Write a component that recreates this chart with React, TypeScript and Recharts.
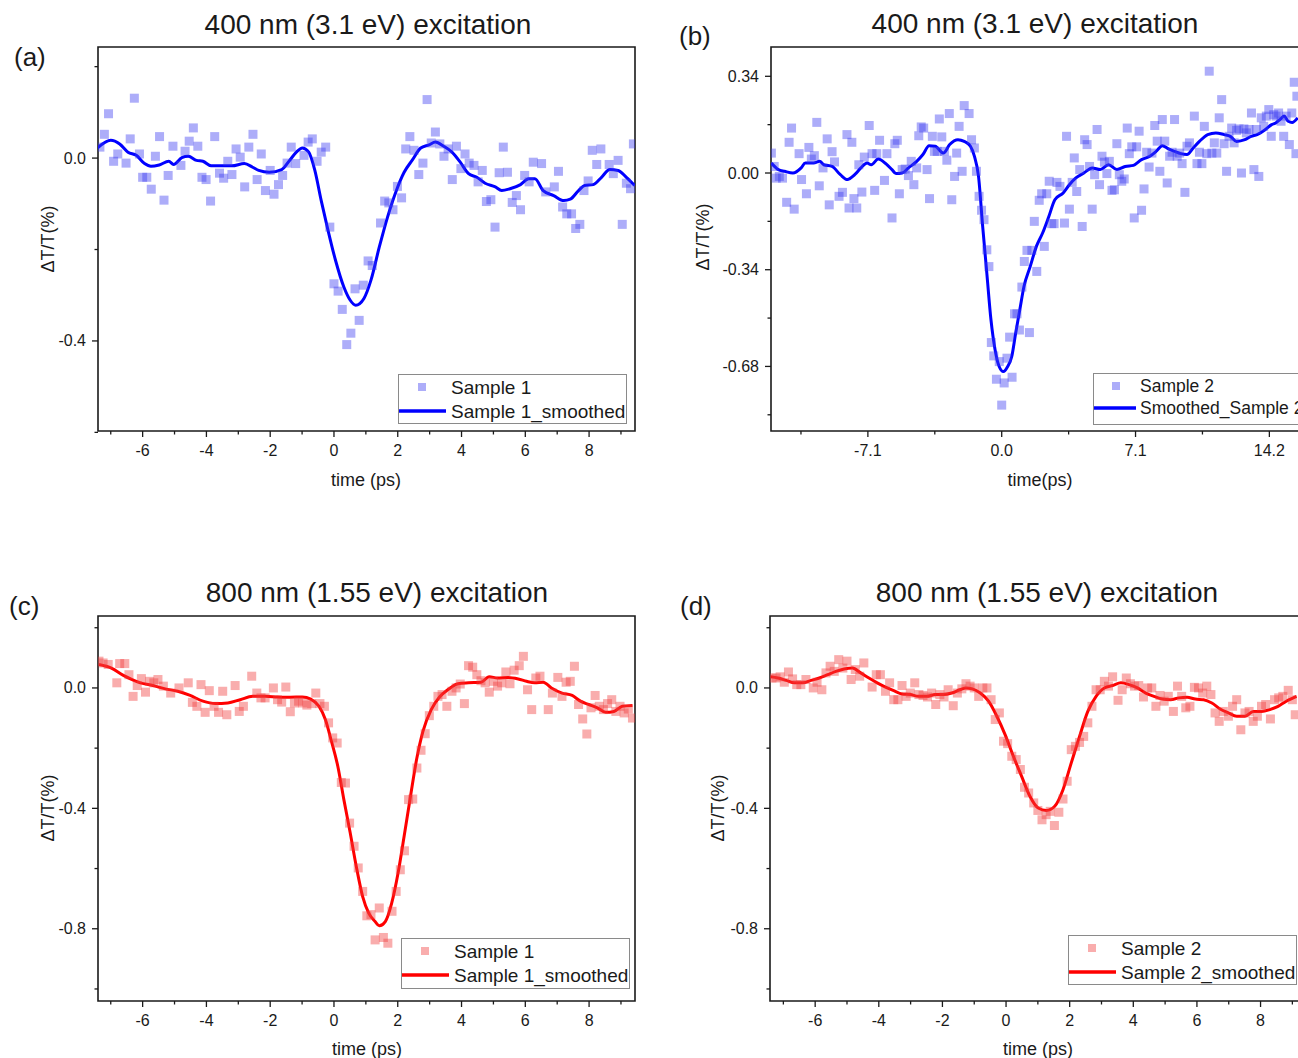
import React from "react";
import { ComposedChart, Scatter, Line, XAxis, YAxis, ReferenceArea, Legend } from "recharts";

type Pair = [number, number];

const FONT = '"Liberation Sans", Arial, Helvetica, sans-serif';
const INK = "#1a1a1a";

// (a) 400 nm, sample 1
const A_POINTS: Pair[] = [
  [-7.34, 0.024], [-7.2, 0.052], [-7.07, 0.097], [-6.91, -0.007], [-6.78, 0.009], [-6.52, -0.011],
  [-6.39, 0.042], [-6.26, 0.131], [-6.1, 0.009], [-6.0, -0.042], [-5.87, -0.042], [-5.73, -0.068],
  [-5.6, 0.004], [-5.47, 0.047], [-5.33, -0.092], [-5.2, -0.038], [-5.05, 0.026], [-4.8, -0.016],
  [-4.67, 0.015], [-4.54, 0.037], [-4.41, 0.066], [-4.27, 0.026], [-4.14, -0.042], [-4.01, -0.047],
  [-3.87, -0.094], [-3.74, 0.047], [-3.59, -0.033], [-3.46, -0.044], [-3.33, -0.007], [-3.2, -0.036],
  [-3.07, 0.02], [-2.94, 0.002], [-2.8, -0.063], [-2.67, 0.024], [-2.54, 0.052], [-2.41, -0.047],
  [-2.28, 0.009], [-2.15, -0.071], [-2.0, -0.027], [-1.88, -0.079], [-1.74, -0.058], [-1.61, -0.038],
  [-1.47, -0.011], [-1.34, 0.024], [-1.2, -0.012], [-0.94, 0.006], [-0.81, 0.035], [-0.68, 0.042],
  [-0.53, -0.007], [-0.4, 0.013], [-0.26, 0.024], [-0.13, -0.151], [0.0, -0.275], [0.13, -0.291],
  [0.26, -0.331], [0.4, -0.408], [0.53, -0.383], [0.66, -0.286], [0.79, -0.355], [0.92, -0.278],
  [1.07, -0.225], [1.2, -0.235], [1.46, -0.142], [1.59, -0.094], [1.72, -0.098], [1.85, -0.113],
  [1.99, -0.062], [2.12, -0.087], [2.25, 0.02], [2.38, 0.047], [2.51, 0.017], [2.66, -0.036],
  [2.79, -0.011], [2.92, 0.128], [3.05, 0.033], [3.18, 0.057], [3.32, 0.031], [3.45, 0.004],
  [3.58, 0.02], [3.71, -0.047], [3.84, 0.026], [3.98, -0.023], [4.11, 0.009], [4.24, -0.011],
  [4.39, -0.016], [4.52, -0.052], [4.65, -0.027], [4.78, -0.095], [4.92, -0.091], [5.05, -0.151],
  [5.18, -0.032], [5.31, 0.024], [5.44, -0.031], [5.59, -0.097], [5.72, -0.082], [5.85, -0.113],
  [5.98, -0.038], [6.12, -0.052], [6.25, -0.009], [6.51, -0.012], [6.64, -0.074], [6.91, -0.063],
  [7.04, -0.029], [7.17, -0.107], [7.3, -0.122], [7.45, -0.122], [7.58, -0.154], [7.71, -0.145],
  [7.84, -0.071], [7.97, -0.05], [8.1, 0.017], [8.24, -0.014], [8.37, 0.02], [8.63, -0.014],
  [8.76, -0.034], [8.91, -0.005], [9.04, -0.145], [9.17, -0.055], [9.3, -0.067], [9.39, 0.031],
];
const A_SMOOTH: Pair[] = [
  [-7.45, 0.02], [-7.0, 0.039], [-6.72, 0.031], [-6.46, 0.013], [-6.2, 0.006], [-5.94, -0.012],
  [-5.74, -0.018], [-5.48, -0.015], [-5.18, -0.007], [-5.03, -0.014], [-4.77, 0.001], [-4.57, 0.004],
  [-4.31, -0.005], [-4.11, -0.007], [-3.85, -0.017], [-3.59, -0.017], [-3.2, -0.017], [-2.81, -0.012],
  [-2.55, -0.02], [-2.36, -0.027], [-2.03, -0.031], [-1.64, -0.025], [-1.38, -0.004], [-1.18, 0.013],
  [-0.99, 0.022], [-0.79, 0.013], [-0.6, -0.027], [-0.4, -0.093], [-0.21, -0.151], [0.05, -0.224],
  [0.31, -0.282], [0.51, -0.311], [0.68, -0.322], [0.94, -0.307], [1.16, -0.267], [1.42, -0.195],
  [1.68, -0.129], [1.94, -0.074], [2.2, -0.031], [2.46, -0.004], [2.72, 0.022], [2.98, 0.029],
  [3.18, 0.035], [3.44, 0.026], [3.7, 0.013], [3.96, -0.009], [4.22, -0.034], [4.48, -0.042],
  [4.74, -0.055], [5.06, -0.063], [5.26, -0.071], [5.52, -0.067], [5.85, -0.058], [6.11, -0.045],
  [6.3, -0.045], [6.56, -0.071], [6.89, -0.082], [7.21, -0.093], [7.41, -0.09], [7.67, -0.071],
  [7.86, -0.06], [8.13, -0.058], [8.39, -0.042], [8.65, -0.025], [8.91, -0.027], [9.17, -0.042],
  [9.43, -0.06],
];

// (b) 400 nm, sample 2
const B_POINTS: Pair[] = [
  [-12.22, 0.07], [-12.07, 0.023], [-11.96, -0.018], [-11.8, -0.012], [-11.63, -0.018], [-11.41, -0.103],
  [-11.28, 0.108], [-11.15, 0.158], [-11.01, -0.127], [-10.75, 0.068], [-10.62, -0.023], [-10.36, -0.073],
  [-10.23, 0.09], [-10.1, 0.049], [-9.94, 0.061], [-9.81, 0.178], [-9.68, -0.045], [-9.48, 0.018],
  [-9.26, 0.12], [-9.15, -0.112], [-9.0, 0.075], [-8.87, 0.039], [-8.63, -0.082], [-8.45, -0.068],
  [-8.21, 0.135], [-8.1, -0.123], [-7.95, 0.108], [-7.84, -0.09], [-7.69, -0.123], [-7.58, 0.029],
  [-7.42, -0.067], [-7.29, 0.056], [-7.03, 0.167], [-6.88, 0.068], [-6.74, -0.061], [-6.63, 0.068],
  [-6.48, 0.115], [-6.22, -0.026], [-6.09, 0.068], [-5.82, -0.158], [-5.67, 0.103], [-5.54, 0.115],
  [-5.43, -0.073], [-5.28, 0.012], [-5.12, 0.014], [-4.95, -0.009], [-4.8, 0.041], [-4.66, -0.041],
  [-4.51, 0.018], [-4.4, 0.131], [-4.27, 0.162], [-4.14, 0.158], [-3.96, 0.012], [-3.83, -0.09],
  [-3.68, 0.129], [-3.57, 0.076], [-3.42, 0.076], [-3.31, 0.19], [-3.18, 0.127], [-3.04, 0.076],
  [-2.91, 0.045], [-2.78, 0.209], [-2.65, -0.094], [-2.5, -0.012], [-2.39, 0.07], [-2.26, 0.164],
  [-2.1, 0.006], [-1.99, 0.237], [-1.73, 0.209], [-1.6, 0.117], [-1.45, 0.088], [-1.34, 0.006],
  [-1.2, -0.082], [-1.07, -0.131], [-0.94, -0.164], [-0.79, -0.27], [-0.68, -0.329], [-0.55, -0.596],
  [-0.42, -0.643], [-0.28, -0.725], [-0.13, -0.663], [0.0, -0.816], [0.13, -0.738], [0.28, -0.651],
  [0.42, -0.577], [0.55, -0.718], [0.68, -0.495], [0.81, -0.495], [0.94, -0.552], [1.07, -0.401],
  [1.2, -0.311], [1.34, -0.272], [1.47, -0.561], [1.6, -0.272], [1.73, -0.17], [1.86, -0.346],
  [1.99, -0.096], [2.12, -0.073], [2.26, -0.258], [2.39, -0.073], [2.52, -0.029], [2.65, -0.178],
  [2.78, -0.178], [2.93, -0.033], [3.09, -0.047], [3.33, -0.176], [3.44, 0.129], [3.59, -0.127],
  [3.74, -0.033], [3.85, 0.053], [3.98, -0.065], [4.14, 0.012], [4.27, -0.188], [4.4, 0.117],
  [4.53, 0.1], [4.66, 0.023], [4.8, -0.127], [4.93, -0.006], [5.06, 0.153], [5.19, -0.041],
  [5.32, 0.059], [5.45, 0.038], [5.58, -0.002], [5.71, 0.041], [5.85, -0.061], [5.98, -0.059],
  [6.11, 0.103], [6.24, -0.006], [6.37, -0.029], [6.5, -0.021], [6.66, 0.158], [6.77, 0.068],
  [6.9, 0.092], [7.03, -0.158], [7.16, 0.092], [7.29, 0.147], [7.42, -0.131], [7.55, -0.056],
  [7.69, 0.073], [7.82, 0.021], [7.97, 0.07], [8.12, 0.167], [8.25, 0.112], [8.39, 0.006],
  [8.52, 0.188], [8.65, 0.112], [8.78, -0.035], [8.91, 0.059], [9.04, 0.073], [9.17, 0.188],
  [9.31, 0.059], [9.44, 0.07], [9.57, 0.033], [9.72, -0.068], [9.83, 0.094], [9.96, 0.106],
  [10.22, 0.2], [10.36, 0.033], [10.49, 0.073], [10.62, 0.033], [10.75, 0.164], [10.88, 0.068],
  [11.01, 0.358], [11.15, 0.07], [11.28, 0.106], [11.41, 0.07], [11.54, 0.194], [11.67, 0.258],
  [11.8, 0.103], [11.93, 0.006], [12.06, 0.129], [12.2, 0.158], [12.33, 0.106], [12.46, 0.15],
  [12.59, 0.155], [12.72, 0.0], [12.85, 0.155], [12.98, 0.141], [13.12, 0.153], [13.25, 0.211],
  [13.38, 0.012], [13.51, 0.153], [13.64, -0.012], [13.77, 0.194], [13.9, 0.164], [14.04, 0.2],
  [14.17, 0.223], [14.3, 0.129], [14.43, 0.205], [14.56, 0.2], [14.69, 0.211], [14.82, 0.182],
  [14.96, 0.129], [15.09, 0.2], [15.26, 0.1], [15.39, 0.211], [15.52, 0.319], [15.61, 0.068],
  [15.66, 0.27],
];
const B_SMOOTH: Pair[] = [
  [-12.22, 0.035], [-11.85, 0.012], [-11.52, 0.006], [-11.08, 0.0], [-10.64, 0.018], [-10.42, 0.035],
  [-9.98, 0.035], [-9.66, 0.041], [-9.44, 0.029], [-9.0, 0.023], [-8.56, -0.006], [-8.19, -0.023],
  [-7.8, -0.006], [-7.47, 0.018], [-7.14, 0.035], [-6.92, 0.029], [-6.55, 0.049], [-6.15, 0.033],
  [-5.82, 0.012], [-5.61, -0.002], [-5.28, 0.0], [-4.95, 0.018], [-4.51, 0.041], [-4.18, 0.065],
  [-3.85, 0.096], [-3.53, 0.094], [-3.09, 0.07], [-2.76, 0.1], [-2.32, 0.117], [-1.99, 0.111],
  [-1.66, 0.094], [-1.45, 0.059], [-1.23, -0.012], [-1.01, -0.188], [-0.79, -0.352], [-0.57, -0.516],
  [-0.35, -0.622], [-0.13, -0.681], [0.09, -0.698], [0.31, -0.681], [0.53, -0.646], [0.74, -0.563],
  [0.96, -0.481], [1.18, -0.399], [1.51, -0.329], [1.84, -0.258], [2.17, -0.211], [2.5, -0.153],
  [2.82, -0.094], [3.26, -0.07], [3.59, -0.041], [3.92, -0.018], [4.36, 0.0], [4.8, 0.018],
  [5.23, 0.012], [5.67, 0.029], [6.11, 0.012], [6.55, 0.023], [6.99, 0.027], [7.42, 0.047],
  [7.86, 0.059], [8.19, 0.076], [8.52, 0.096], [8.85, 0.085], [9.17, 0.076], [9.5, 0.068],
  [9.83, 0.065], [10.16, 0.088], [10.49, 0.111], [10.93, 0.135], [11.36, 0.141], [11.8, 0.135],
  [12.13, 0.129], [12.46, 0.111], [12.9, 0.117], [13.23, 0.129], [13.55, 0.135], [13.99, 0.153],
  [14.32, 0.17], [14.54, 0.176], [14.76, 0.188], [14.98, 0.2], [15.2, 0.182], [15.41, 0.178],
  [15.7, 0.194],
];

// (c) 800 nm, sample 1
const C_POINTS: Pair[] = [
  [-7.37, 0.089], [-7.24, 0.083], [-7.08, 0.078], [-6.81, 0.017], [-6.72, 0.081], [-6.56, 0.081],
  [-6.43, 0.044], [-6.3, -0.028], [-6.17, 0.008], [-6.04, 0.031], [-5.91, -0.014], [-5.78, 0.022],
  [-5.65, 0.017], [-5.52, 0.028], [-5.35, 0.006], [-5.12, -0.017], [-4.86, 0.0], [-4.57, 0.017],
  [-4.44, -0.048], [-4.3, -0.061], [-4.17, 0.011], [-4.04, -0.081], [-3.91, -0.009], [-3.76, -0.061],
  [-3.62, -0.081], [-3.49, -0.011], [-3.36, -0.089], [-3.1, 0.008], [-2.97, -0.078], [-2.84, -0.061],
  [-2.58, 0.039], [-2.42, -0.017], [-2.29, -0.033], [-2.16, -0.033], [-1.9, 0.0], [-1.77, -0.039],
  [-1.64, -0.047], [-1.51, 0.003], [-1.37, -0.079], [-1.24, -0.05], [-1.11, -0.044], [-0.98, -0.05],
  [-0.85, -0.057], [-0.7, -0.052], [-0.57, -0.017], [-0.44, -0.052], [-0.3, -0.061], [-0.17, -0.116],
  [-0.04, -0.166], [0.1, -0.183], [0.23, -0.314], [0.36, -0.316], [0.49, -0.449], [0.63, -0.526],
  [0.76, -0.598], [0.9, -0.676], [1.03, -0.757], [1.16, -0.753], [1.29, -0.837], [1.42, -0.731],
  [1.55, -0.829], [1.69, -0.848], [1.82, -0.742], [1.95, -0.676], [2.08, -0.604], [2.21, -0.541],
  [2.34, -0.371], [2.47, -0.369], [2.6, -0.266], [2.73, -0.207], [2.86, -0.152], [2.99, -0.092],
  [3.13, -0.061], [3.26, -0.028], [3.39, -0.022], [3.54, -0.061], [3.7, -0.011], [3.83, 0.0],
  [3.96, 0.013], [4.09, -0.052], [4.22, 0.074], [4.35, 0.069], [4.48, 0.044], [4.61, 0.024],
  [4.74, 0.017], [4.87, -0.014], [5.0, 0.022], [5.13, 0.006], [5.26, 0.017], [5.39, 0.053],
  [5.52, 0.014], [5.65, 0.059], [5.81, 0.074], [5.94, 0.105], [6.07, -0.006], [6.2, -0.072],
  [6.33, 0.033], [6.46, 0.039], [6.72, -0.072], [6.85, -0.017], [7.02, 0.035], [7.15, -0.028],
  [7.28, 0.019], [7.41, 0.022], [7.54, 0.072], [7.67, -0.055], [7.8, -0.103], [7.93, -0.153],
  [8.06, -0.066], [8.19, -0.025], [8.32, -0.061], [8.45, -0.072], [8.58, -0.052], [8.71, -0.039],
  [8.84, -0.078], [8.97, -0.061], [9.1, -0.083], [9.23, -0.07], [9.36, -0.1],
];
const C_SMOOTH: Pair[] = [
  [-7.37, 0.078], [-6.98, 0.066], [-6.59, 0.041], [-6.33, 0.028], [-6.07, 0.017], [-5.68, 0.008],
  [-5.29, -0.003], [-4.9, -0.011], [-4.51, -0.025], [-4.11, -0.044], [-3.72, -0.052], [-3.33, -0.05],
  [-2.94, -0.039], [-2.55, -0.028], [-2.16, -0.028], [-1.77, -0.03], [-1.38, -0.031], [-0.99, -0.03],
  [-0.73, -0.037], [-0.47, -0.061], [-0.27, -0.105], [-0.08, -0.177], [0.12, -0.26], [0.31, -0.371],
  [0.51, -0.482], [0.7, -0.593], [0.9, -0.693], [1.09, -0.748], [1.29, -0.776], [1.42, -0.79],
  [1.61, -0.776], [1.81, -0.715], [2.01, -0.615], [2.2, -0.493], [2.4, -0.36], [2.59, -0.238],
  [2.79, -0.144], [3.05, -0.072], [3.31, -0.03], [3.57, -0.006], [3.89, 0.014], [4.22, 0.017],
  [4.61, 0.019], [4.87, 0.037], [5.13, 0.033], [5.46, 0.035], [5.78, 0.03], [6.04, 0.022],
  [6.3, 0.017], [6.56, 0.019], [6.82, 0.0], [7.15, -0.017], [7.47, -0.025], [7.73, -0.044],
  [7.99, -0.055], [8.26, -0.066], [8.52, -0.081], [8.78, -0.078], [9.04, -0.061], [9.36, -0.058],
];

// (d) 800 nm, sample 2
const D_POINTS: Pair[] = [
  [-7.36, 0.033], [-7.23, 0.033], [-7.1, 0.037], [-6.97, 0.019], [-6.84, 0.053], [-6.71, 0.03],
  [-6.58, 0.011], [-6.45, 0.011], [-6.29, 0.028], [-6.06, 0.0], [-5.94, 0.019], [-5.79, -0.006],
  [-5.66, 0.05], [-5.53, 0.072], [-5.4, 0.055], [-5.26, 0.094], [-5.13, 0.066], [-5.0, 0.089],
  [-4.87, 0.028], [-4.74, 0.061], [-4.6, 0.039], [-4.47, 0.083], [-4.21, 0.003], [-4.08, 0.044],
  [-3.95, 0.044], [-3.79, -0.011], [-3.66, 0.017], [-3.53, -0.039], [-3.4, -0.039], [-3.27, 0.008],
  [-3.14, -0.028], [-3.01, -0.017], [-2.87, 0.017], [-2.74, -0.022], [-2.61, -0.025], [-2.47, -0.03],
  [-2.34, -0.017], [-2.21, -0.055], [-2.08, -0.022], [-1.95, -0.03], [-1.82, -0.006], [-1.66, -0.059],
  [-1.53, -0.017], [-1.39, -0.003], [-1.26, 0.014], [-1.13, 0.006], [-1.0, 0.0], [-0.86, -0.028],
  [-0.73, 0.0], [-0.6, 0.0], [-0.47, -0.039], [-0.34, -0.105], [-0.21, -0.083], [-0.08, -0.177],
  [0.05, -0.185], [0.18, -0.227], [0.32, -0.238], [0.45, -0.271], [0.58, -0.33], [0.71, -0.349],
  [0.87, -0.382], [1.0, -0.407], [1.13, -0.438], [1.26, -0.421], [1.39, -0.41], [1.52, -0.457],
  [1.66, -0.413], [1.79, -0.369], [1.92, -0.31], [2.05, -0.205], [2.18, -0.194], [2.31, -0.181],
  [2.44, -0.161], [2.57, -0.116], [2.7, -0.061], [2.83, -0.006], [2.96, -0.006], [3.09, 0.022],
  [3.22, 0.006], [3.35, 0.037], [3.52, -0.041], [3.65, -0.006], [3.78, 0.033], [3.91, 0.014],
  [4.04, 0.006], [4.17, 0.008], [4.32, -0.03], [4.45, 0.0], [4.58, 0.0], [4.71, -0.061],
  [4.84, -0.025], [4.97, -0.044], [5.1, -0.028], [5.26, -0.078], [5.39, 0.006], [5.52, -0.028],
  [5.65, -0.066], [5.78, -0.061], [5.92, 0.002], [6.05, 0.0], [6.18, -0.017], [6.31, 0.006],
  [6.44, -0.022], [6.57, -0.083], [6.7, -0.111], [6.83, -0.078], [6.99, -0.094], [7.12, -0.061],
  [7.25, -0.039], [7.38, -0.139], [7.51, -0.083], [7.64, -0.078], [7.77, -0.111], [7.9, -0.094],
  [8.03, -0.061], [8.16, -0.055], [8.31, -0.103], [8.44, -0.039], [8.57, -0.033], [8.7, -0.028],
  [8.87, -0.008], [9.0, -0.039], [9.09, -0.089],
];
const D_SMOOTH: Pair[] = [
  [-7.4, 0.037], [-7.17, 0.033], [-6.91, 0.025], [-6.65, 0.017], [-6.39, 0.017], [-6.13, 0.025],
  [-5.87, 0.033], [-5.61, 0.044], [-5.35, 0.055], [-5.09, 0.063], [-4.83, 0.066], [-4.57, 0.05],
  [-4.31, 0.033], [-4.05, 0.017], [-3.79, 0.003], [-3.53, -0.009], [-3.27, -0.02], [-3.01, -0.022],
  [-2.75, -0.028], [-2.49, -0.028], [-2.23, -0.022], [-1.97, -0.022], [-1.71, -0.017], [-1.45, -0.006],
  [-1.26, 0.0], [-1.06, -0.003], [-0.81, -0.017], [-0.55, -0.044], [-0.29, -0.094], [-0.03, -0.155],
  [0.23, -0.227], [0.49, -0.294], [0.75, -0.36], [1.01, -0.399], [1.27, -0.407], [1.53, -0.393],
  [1.79, -0.338], [2.05, -0.249], [2.31, -0.161], [2.57, -0.078], [2.83, -0.028], [3.09, 0.0],
  [3.35, 0.008], [3.61, 0.017], [3.87, 0.011], [4.13, 0.0], [4.39, -0.017], [4.65, -0.028],
  [4.91, -0.037], [5.17, -0.039], [5.43, -0.033], [5.69, -0.031], [5.95, -0.037], [6.21, -0.039],
  [6.47, -0.05], [6.73, -0.07], [6.99, -0.083], [7.25, -0.094], [7.51, -0.094], [7.77, -0.078],
  [8.03, -0.078], [8.29, -0.072], [8.55, -0.061], [8.81, -0.044], [9.13, -0.028],
];

// ticks: all tick marks, and the ones that carry a label
const PS_TICKS = [-7, -6, -5, -4, -3, -2, -1, 0, 1, 2, 3, 4, 5, 6, 7, 8, 9];
const PS_LABELS = [-6, -4, -2, 0, 2, 4, 6, 8];
const B_X_TICKS = [-10.65, -7.1, -3.55, 0, 3.55, 7.1, 10.65, 14.2];
const B_X_LABELS = [-7.1, 0, 7.1, 14.2];
const A_Y_TICKS = [0.2, 0, -0.2, -0.4, -0.6];
const A_Y_LABELS = [0, -0.4];
const B_Y_TICKS = [0.34, 0.17, 0, -0.17, -0.34, -0.51, -0.68, -0.85];
const B_Y_LABELS = [0.34, 0, -0.34, -0.68];
const CD_Y_TICKS = [0.2, 0, -0.2, -0.4, -0.6, -0.8, -1.0];
const CD_Y_LABELS = [0, -0.4, -0.8];

const BLUE = { line: "#0000ff", dot: "#3c3cf0" };
const RED = { line: "#ff0000", dot: "#f03c3c" };

type Box = { left: number; top: number; width: number; height: number };
type LegendLook = { font: number; dotX: number; dotY: number; lineEnd: number; lineY: number; textX: number; row1: number; row2: number };

const LEGEND_WIDE: LegendLook = { font: 19, dotX: 24, dotY: 13, lineEnd: 48, lineY: 37, textX: 53, row1: 20, row2: 44 };
const LEGEND_SMALL: LegendLook = { font: 17.5, dotX: 23, dotY: 13, lineEnd: 43, lineY: 35, textX: 47, row1: 19, row2: 41 };

type PanelProps = {
  plot: Box;
  xDomain: [number, number];
  yDomain: [number, number];
  xTicks: number[];
  xLabels: number[];
  xDigits: number;
  yTicks: number[];
  yLabels: number[];
  yDigits: number;
  points: Pair[];
  smooth: Pair[];
  colors: { line: string; dot: string };
  names: [string, string];
  legend: Box;
  legendLook: LegendLook;
  title: string;
  titlePos: [number, number];
  letter: string;
  letterPos: [number, number];
  yTitlePos: [number, number];
  xTitle: string;
  xTitlePos: [number, number];
};

const isLabel = (labels: number[], v: number) => labels.some((l) => Math.abs(l - v) < 1e-6);

function LegendBox({ box, look, colors, names }: { box: Box; look: LegendLook; colors: { line: string; dot: string }; names: [string, string] }) {
  return (
    <svg width={box.width} height={box.height} style={{ display: "block", overflow: "visible" }}>
      <rect x={0.5} y={0.5} width={box.width - 1} height={box.height - 1} fill="#fff" stroke="#8a8a8a" strokeWidth={1} />
      <rect x={look.dotX - 4} y={look.dotY - 4} width={8} height={8} fill={colors.dot} fillOpacity={0.42} />
      <text x={look.textX} y={look.row1} fontSize={look.font} fontFamily={FONT} fill={INK}>{names[0]}</text>
      <line x1={1} x2={look.lineEnd} y1={look.lineY} y2={look.lineY} stroke={colors.line} strokeWidth={3.5} />
      <text x={look.textX} y={look.row2} fontSize={look.font} fontFamily={FONT} fill={INK}>{names[1]}</text>
    </svg>
  );
}

function Panel(p: PanelProps) {
  const x0 = p.plot.left - 100;
  const y0 = p.plot.top - 60;
  const w = p.plot.width + 130;
  const h = p.plot.height + 130;
  const pts = p.points.map(([t, v]) => ({ t, v }));
  const sm = p.smooth.map(([t, v]) => ({ t, v }));

  const xTick = (props: any) => {
    const { x, y, payload } = props;
    const major = isLabel(p.xLabels, payload.value);
    return (
      <g>
        <line x1={x} x2={x} y1={y} y2={y + (major ? 6 : 3.5)} stroke={INK} strokeWidth={1.3} />
        {major && (
          <text x={x} y={y + 25} textAnchor="middle" fontSize={16} fontFamily={FONT} fill={INK}>
            {Number(payload.value).toFixed(p.xDigits)}
          </text>
        )}
      </g>
    );
  };

  const yTick = (props: any) => {
    const { x, y, payload } = props;
    const major = isLabel(p.yLabels, payload.value);
    return (
      <g>
        <line x1={x} x2={x - (major ? 6 : 3.5)} y1={y} y2={y} stroke={INK} strokeWidth={1.3} />
        {major && (
          <text x={x - 12} y={y + 5.5} textAnchor="end" fontSize={16} fontFamily={FONT} fill={INK}>
            {Number(payload.value).toFixed(p.yDigits)}
          </text>
        )}
      </g>
    );
  };

  const loc = (pos: [number, number]) => [pos[0] - x0, pos[1] - y0];
  const [tx, ty] = loc(p.titlePos);
  const [lx, ly] = loc(p.letterPos);
  const [yx, yy] = loc(p.yTitlePos);
  const [xx, xy] = loc(p.xTitlePos);

  return (
    <div style={{ position: "absolute", left: x0, top: y0, width: w, height: h }}>
      <ComposedChart width={w} height={h} margin={{ top: 60, right: 30, bottom: 10, left: 40 }}>
        <XAxis
          type="number"
          dataKey="t"
          domain={p.xDomain}
          allowDataOverflow
          ticks={p.xTicks}
          interval={0}
          tickSize={0}
          tickMargin={0}
          axisLine={false}
          tickLine={false}
          height={60}
          tick={xTick}
        />
        <YAxis
          type="number"
          dataKey="v"
          domain={p.yDomain}
          allowDataOverflow
          ticks={p.yTicks}
          interval={0}
          tickSize={0}
          tickMargin={0}
          axisLine={false}
          tickLine={false}
          width={60}
          tick={yTick}
        />
        <Scatter
          name={p.names[0]}
          data={pts}
          isAnimationActive={false}
          shape={(s: any) => (
            <rect x={s.cx - 4.5} y={s.cy - 4.5} width={9} height={9} fill={p.colors.dot} fillOpacity={0.42} />
          )}
        />
        <Line
          name={p.names[1]}
          data={sm}
          dataKey="v"
          type="monotone"
          stroke={p.colors.line}
          strokeWidth={3}
          dot={false}
          activeDot={false}
          isAnimationActive={false}
        />
        <ReferenceArea
          x1={p.xDomain[0]}
          x2={p.xDomain[1]}
          y1={p.yDomain[0]}
          y2={p.yDomain[1]}
          fill="none"
          stroke={INK}
          strokeWidth={1.6}
          ifOverflow="visible"
        />
        <Legend
          layout="vertical"
          align="center"
          verticalAlign="middle"
          wrapperStyle={{
            left: p.legend.left - x0,
            top: p.legend.top - y0,
            width: p.legend.width,
            height: p.legend.height,
          }}
          content={() => <LegendBox box={p.legend} look={p.legendLook} colors={p.colors} names={p.names} />}
        />
      </ComposedChart>
      <svg
        width={w}
        height={h}
        style={{ position: "absolute", left: 0, top: 0, pointerEvents: "none", overflow: "visible" }}
      >
        <text x={tx} y={ty} textAnchor="middle" fontSize={28} fontFamily={FONT} fill={INK}>{p.title}</text>
        <text x={lx} y={ly} fontSize={26} fontFamily={FONT} fill={INK}>{p.letter}</text>
        <text
          x={yx}
          y={yy}
          textAnchor="middle"
          dominantBaseline="central"
          transform={`rotate(-90, ${yx}, ${yy})`}
          fontSize={18}
          fontFamily={FONT}
          fill={INK}
        >
          ΔT/T(%)
        </text>
        <text x={xx} y={xy} textAnchor="middle" fontSize={18} fontFamily={FONT} fill={INK}>{p.xTitle}</text>
      </svg>
    </div>
  );
}

export default function App() {
  return (
    <div
      style={{
        position: "absolute",
        left: 0,
        top: 0,
        width: 1298,
        height: 1058,
        overflow: "hidden",
        background: "#fff",
        fontFamily: FONT,
      }}
    >
      <Panel
        plot={{ left: 98, top: 47, width: 537, height: 384 }}
        xDomain={[-7.4, 9.44]}
        yDomain={[-0.597, 0.243]}
        xTicks={PS_TICKS}
        xLabels={PS_LABELS}
        xDigits={0}
        yTicks={A_Y_TICKS}
        yLabels={A_Y_LABELS}
        yDigits={1}
        points={A_POINTS}
        smooth={A_SMOOTH}
        colors={BLUE}
        names={["Sample 1", "Sample 1_smoothed"]}
        legend={{ left: 398, top: 374, width: 229, height: 50 }}
        legendLook={LEGEND_WIDE}
        title="400 nm (3.1 eV) excitation"
        titlePos={[368, 34]}
        letter="(a)"
        letterPos={[14, 66]}
        yTitlePos={[48, 239]}
        xTitle="time (ps)"
        xTitlePos={[366, 486]}
      />
      <Panel
        plot={{ left: 771, top: 47, width: 537, height: 384 }}
        xDomain={[-12.24, 16.25]}
        yDomain={[-0.907, 0.443]}
        xTicks={B_X_TICKS}
        xLabels={B_X_LABELS}
        xDigits={1}
        yTicks={B_Y_TICKS}
        yLabels={B_Y_LABELS}
        yDigits={2}
        points={B_POINTS}
        smooth={B_SMOOTH}
        colors={BLUE}
        names={["Sample 2", "Smoothed_Sample 2"]}
        legend={{ left: 1093, top: 373, width: 229, height: 52 }}
        legendLook={LEGEND_SMALL}
        title="400 nm (3.1 eV) excitation"
        titlePos={[1035, 33]}
        letter="(b)"
        letterPos={[679, 45]}
        yTitlePos={[703, 237]}
        xTitle="time(ps)"
        xTitlePos={[1040, 486]}
      />
      <Panel
        plot={{ left: 98, top: 616, width: 537, height: 385 }}
        xDomain={[-7.4, 9.44]}
        yDomain={[-1.04, 0.239]}
        xTicks={PS_TICKS}
        xLabels={PS_LABELS}
        xDigits={0}
        yTicks={CD_Y_TICKS}
        yLabels={CD_Y_LABELS}
        yDigits={1}
        points={C_POINTS}
        smooth={C_SMOOTH}
        colors={RED}
        names={["Sample 1", "Sample 1_smoothed"]}
        legend={{ left: 401, top: 938, width: 229, height: 51 }}
        legendLook={LEGEND_WIDE}
        title="800 nm (1.55 eV) excitation"
        titlePos={[377, 602]}
        letter="(c)"
        letterPos={[9, 615]}
        yTitlePos={[48, 808]}
        xTitle="time (ps)"
        xTitlePos={[367, 1055]}
      />
      <Panel
        plot={{ left: 770, top: 616, width: 537, height: 385 }}
        xDomain={[-7.42, 9.46]}
        yDomain={[-1.04, 0.239]}
        xTicks={PS_TICKS}
        xLabels={PS_LABELS}
        xDigits={0}
        yTicks={CD_Y_TICKS}
        yLabels={CD_Y_LABELS}
        yDigits={1}
        points={D_POINTS}
        smooth={D_SMOOTH}
        colors={RED}
        names={["Sample 2", "Sample 2_smoothed"]}
        legend={{ left: 1068, top: 935, width: 229, height: 50 }}
        legendLook={LEGEND_WIDE}
        title="800 nm (1.55 eV) excitation"
        titlePos={[1047, 602]}
        letter="(d)"
        letterPos={[680, 615]}
        yTitlePos={[718, 808]}
        xTitle="time (ps)"
        xTitlePos={[1038, 1055]}
      />
    </div>
  );
}
